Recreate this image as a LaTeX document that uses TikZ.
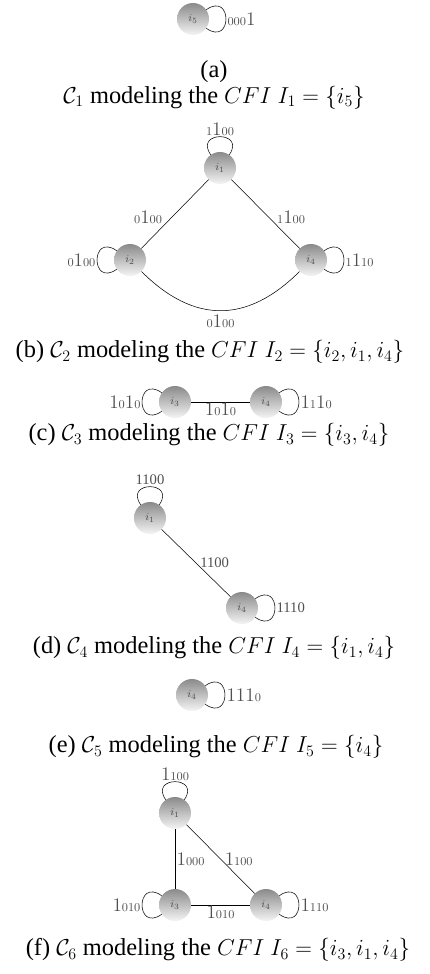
\documentclass[tikz,border=0pt]{standalone}
\usepackage{fontspec}
\setmainfont{Liberation Serif}
\definecolor{ItemGrey}{HTML}{8A8A8A}
\definecolor{LabelGrey}{HTML}{505050}
\tikzset{item/.style={circle,minimum size=24pt,inner sep=0pt,top color=ItemGrey,bottom color=black!4,text=black!70,font=\footnotesize},
  lbl/.style={text=LabelGrey,inner sep=1pt,font=\fontsize{13.5}{15}\selectfont},
  capnode/.style={font=\fontsize{18.3}{19}\selectfont,align=center,inner sep=0pt},
  selfR/.style={out=35,in=-35,distance=24pt},selfL/.style={out=145,in=215,distance=24pt},
  selfU/.style={out=125,in=55,distance=22pt}}
\newcommand{\lb}[1]{{\scriptstyle #1}}

\begin{document}
\begin{tikzpicture}[x=0.75pt,y=0.75pt]
\useasboundingbox (0,0) rectangle (429,-974);
% (a)
\node[item] (a5) at (193,-19) {$i_5$};
\draw (a5) to[selfR] node[lbl,right] {$\lb{000}1$} (a5);
\node[capnode] (capa) at (214,-85) {(a)\\$\mathcal{C}_1$ modeling the $CFI$ $I_1=\{i_5\}$};
% (b)
\node[item] (b1) at (220,-168) {$i_1$};
\node[item] (b2) at (130,-260) {$i_2$};
\node[item] (b4) at (311,-260) {$i_4$};
\draw (b1) to[selfU] node[lbl,above] {$\lb{1}1\lb{00}$} (b1);
\draw (b2) to[selfL] node[lbl,left] {$\lb{0}1\lb{00}$} (b2);
\draw (b4) to[selfR] node[lbl,right] {$\lb{1}1\lb{10}$} (b4);
\draw (b1) -- node[lbl,pos=0.55,left=6pt] {$\lb{0}1\lb{00}$} (b2);
\draw (b1) -- node[lbl,pos=0.55,right=5pt] {$\lb{1}1\lb{00}$} (b4);
\draw (b2) to[out=-45,in=-135,looseness=1.2] node[lbl,below=2pt] {$\lb{0}1\lb{00}$} (b4);
\node[capnode] (capb) at (210,-352) {(b) $\mathcal{C}_2$ modeling the $CFI$ $I_2=\{i_2,i_1,i_4\}$};
% (c)
\node[item] (c3) at (175,-402) {$i_3$};
\node[item] (c4) at (266,-402) {$i_4$};
\draw (c3) to[selfL] node[lbl,left] {$1\lb{0}1\lb{0}$} (c3);
\draw (c4) to[selfR] node[lbl,right] {$1\lb{1}1\lb{0}$} (c4);
\draw (c3) -- node[lbl,below=0pt] {$1\lb{0}1\lb{0}$} (c4);
\node[capnode] (capc) at (209,-435) {(c) $\mathcal{C}_3$ modeling the $CFI$ $I_3=\{i_3,i_4\}$};
% (d)
\node[item] (d1) at (150,-518) {$i_1$};
\node[item] (d4) at (242,-608) {$i_4$};
\draw (d1) to[selfU] node[lbl,above,font=\fontsize{11}{12}\selectfont] {1100} (d1);
\draw (d4) to[selfR] node[lbl,right,font=\fontsize{11}{12}\selectfont] {1110} (d4);
\draw (d1) -- node[lbl,right=2pt,font=\fontsize{11}{12}\selectfont] {1100} (d4);
\node[capnode] (capd) at (214,-648) {(d) $\mathcal{C}_4$ modeling the $CFI$ $I_4=\{i_1,i_4\}$};
% (e)
\node[item] (e4) at (192,-695) {$i_4$};
\draw (e4) to[selfR] node[lbl,right] {$111\lb{0}$} (e4);
\node[capnode] (cape) at (216,-747) {(e) $\mathcal{C}_5$ modeling the $CFI$ $I_5=\{i_4\}$};
% (f)
\node[item] (f1) at (175,-813) {$i_1$};
\node[item] (f3) at (175,-905) {$i_3$};
\node[item] (f4) at (266,-905) {$i_4$};
\draw (f1) to[selfU] node[lbl,above] {$1\lb{100}$} (f1);
\draw (f3) to[selfL] node[lbl,left] {$1\lb{010}$} (f3);
\draw (f4) to[selfR] node[lbl,right] {$1\lb{110}$} (f4);
\draw (f1) -- node[lbl,right=0pt] {$1\lb{000}$} (f3);
\draw (f1) -- node[lbl,right=2pt] {$1\lb{100}$} (f4);
\draw (f3) -- node[lbl,below=0pt] {$1\lb{010}$} (f4);
\node[capnode] (capf) at (218,-950) {(f) $\mathcal{C}_6$ modeling the $CFI$ $I_6=\{i_3,i_1,i_4\}$};
\end{tikzpicture}
\end{document}
